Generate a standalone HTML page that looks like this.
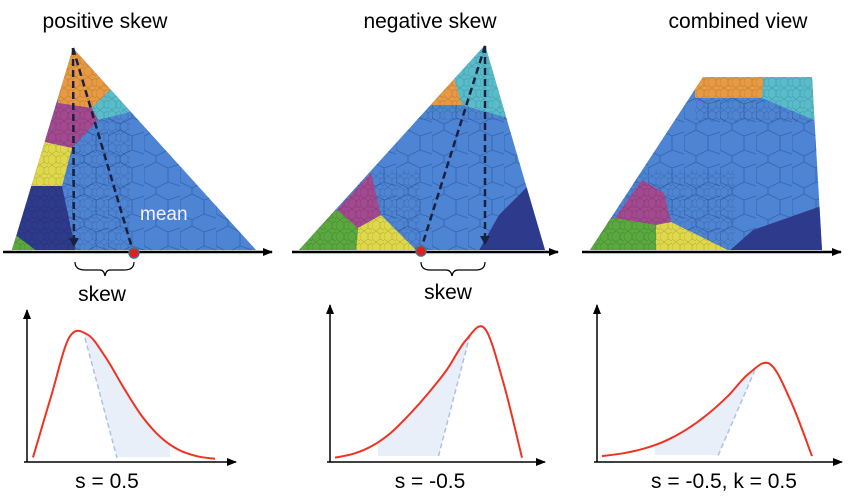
<!DOCTYPE html>
<html><head><meta charset="utf-8"><style>
body{margin:0;background:#fff;width:850px;height:501px;overflow:hidden}
svg{display:block}
text{font-family:"Liberation Sans",sans-serif}
</style></head><body>
<svg id="fig" width="850" height="501" viewBox="0 0 850 501">
<defs>
<pattern id="cells" width="36" height="32" patternUnits="userSpaceOnUse">
<path d="M0 8 L12 2 L24 8 L24 22 L12 28 L0 22 Z M24 8 L36 4 M24 22 L36 26 M12 28 L12 32 M12 2 L12 0" fill="none" stroke="#2f5ea8" stroke-width="0.9" opacity="0.8"/>
</pattern>
<pattern id="small" width="12" height="11" patternUnits="userSpaceOnUse">
<path d="M0 3 L4 0 L8 3 L8 8 L4 11 L0 8 Z M8 3 L12 1 M8 8 L12 10" fill="none" stroke="#000" stroke-width="0.5" opacity="0.25"/>
</pattern>
<clipPath id="t1"><polygon points="73,48 12,250 256,250"/></clipPath>
<clipPath id="t2"><polygon points="485,45 299,250 545,250"/></clipPath>
<clipPath id="t3"><polygon points="703,77 812,77 822,250 590,250"/></clipPath>
<clipPath id="f1"><polygon points="85,300 85,338 117,458 170,458 170,300"/></clipPath>
<clipPath id="f2"><polygon points="378,300 470,300 470,335 438,458 378,458"/></clipPath>
<clipPath id="f3"><polygon points="655,300 755,300 755,370 717,458 655,458"/></clipPath>
<marker id="ah" markerWidth="10" markerHeight="8" refX="9" refY="4" orient="auto" markerUnits="userSpaceOnUse"><path d="M0 0 L10 4 L0 8 Z" fill="#000"/></marker>
<marker id="ahd" markerWidth="10" markerHeight="10" refX="8" refY="5" orient="auto" markerUnits="userSpaceOnUse"><path d="M0 0 L9 5 L0 10 Z" fill="#1a2040"/></marker>
</defs>

<text x="105" y="28" font-size="21" text-anchor="middle">positive skew</text>
<text x="430" y="28" font-size="21" text-anchor="middle">negative skew</text>
<text x="738" y="28" font-size="21" text-anchor="middle">combined view</text>

<!-- panel 1 -->
<g clip-path="url(#t1)">
<rect x="0" y="40" width="270" height="215" fill="#4d84d4"/>
<rect x="0" y="40" width="270" height="215" fill="url(#cells)"/>
<polygon points="60,40 100,40 112,88 92,108 58,103" fill="#e89a42"/>
<polygon points="92,108 112,88 130,112 98,120" fill="#58bccb"/>
<polygon points="40,100 58,103 92,108 98,120 72,148 45,142" fill="#a24990"/>
<polygon points="30,140 45,142 72,148 62,186 28,186" fill="#dfd84a"/>
<polygon points="10,186 62,186 76,252 10,252" fill="#2e3b8c"/>
<polygon points="10,232 17,236 38,252 10,252" fill="#5aa83e"/>
<rect x="0" y="40" width="130" height="215" fill="url(#small)"/>
</g>
<line x1="3" y1="252" x2="272" y2="252" stroke="#000" stroke-width="2.5" marker-end="url(#ah)"/>
<line x1="73" y1="48" x2="74" y2="246" stroke="#1a2040" stroke-width="2.5" stroke-dasharray="7,4" marker-end="url(#ahd)"/>
<line x1="73" y1="48" x2="132" y2="248" stroke="#1a2040" stroke-width="2.5" stroke-dasharray="7,4"/>
<circle cx="134" cy="253" r="5" fill="#e02020" stroke="#4d7080" stroke-width="1.5"/>
<text x="140" y="220" font-size="19" fill="#f4f0ff">mean</text>
<path d="M75 262 Q75 270 85 270 L100 270 Q104 270 105 276 Q106 270 110 270 L124 270 Q134 270 134 262" fill="none" stroke="#000" stroke-width="1.2"/>
<text x="102" y="301" font-size="21" text-anchor="middle">skew</text>

<!-- panel 2 -->
<g clip-path="url(#t2)">
<rect x="290" y="40" width="260" height="215" fill="#4d84d4"/>
<rect x="290" y="40" width="260" height="215" fill="url(#cells)"/>
<polygon points="420,60 453,60 453,75 462,105 420,105" fill="#e89a42"/>
<polygon points="453,40 520,40 520,125 508,118 462,105 453,75" fill="#58bccb"/>
<polygon points="290,200 337,210 371,173 381,215 358,228 290,228" fill="#a24990"/>
<polygon points="358,228 381,215 418,252 356,252" fill="#dfd84a"/>
<polygon points="290,210 337,210 358,228 356,252 290,252" fill="#5aa83e"/>
<polygon points="531,183 550,180 550,252 478,252 499,215" fill="#2e3b8c"/>
<rect x="290" y="170" width="130" height="85" fill="url(#small)"/>
<rect x="420" y="40" width="100" height="80" fill="url(#small)"/>
</g>
<line x1="292" y1="252" x2="558" y2="252" stroke="#000" stroke-width="2.5" marker-end="url(#ah)"/>
<line x1="485" y1="46" x2="485" y2="244" stroke="#1a2040" stroke-width="2.5" stroke-dasharray="7,4" marker-end="url(#ahd)"/>
<line x1="485" y1="46" x2="422" y2="246" stroke="#1a2040" stroke-width="2.5" stroke-dasharray="7,4"/>
<circle cx="421" cy="251" r="5" fill="#e02020" stroke="#4d7080" stroke-width="1.5"/>
<path d="M421 262 Q421 270 430 270 L446 270 Q451 270 452 276 Q453 270 458 270 L476 270 Q485 270 485 262" fill="none" stroke="#000" stroke-width="1.2"/>
<text x="448" y="299" font-size="21" text-anchor="middle">skew</text>

<!-- panel 3 -->
<g clip-path="url(#t3)">
<rect x="585" y="70" width="245" height="185" fill="#4d84d4"/>
<rect x="585" y="70" width="245" height="185" fill="url(#cells)"/>
<polygon points="695,70 764,70 762,98 695,98" fill="#e89a42"/>
<polygon points="764,70 830,70 830,122 814,120 762,98" fill="#58bccb"/>
<polygon points="585,218 615,218 642,180 664,193 671,222 656,225 585,225" fill="#a24990"/>
<polygon points="656,225 671,222 728,250 656,252" fill="#dfd84a"/>
<polygon points="585,222 615,218 656,225 656,252 585,252" fill="#5aa83e"/>
<polygon points="728,252 753,230 830,203 830,252" fill="#2e3b8c"/>
<rect x="585" y="170" width="150" height="85" fill="url(#small)"/>
<rect x="695" y="70" width="135" height="52" fill="url(#small)"/>
</g>
<line x1="582" y1="252" x2="841" y2="252" stroke="#000" stroke-width="2.5" marker-end="url(#ah)"/>

<g id="charts"></g>
<text x="107" y="488" font-size="21" text-anchor="middle">s = 0.5</text>
<text x="430" y="488" font-size="21" text-anchor="middle">s = -0.5</text>
<text x="724" y="488" font-size="21" text-anchor="middle">s = -0.5, k = 0.5</text>
</svg>
<script>
const ns="http://www.w3.org/2000/svg";
// density samples at evenly spaced x (0..1 of curve span)
const skewPos=[0.02,0.5,0.96,0.98,0.8,0.56,0.34,0.18,0.08,0.03,0.01];
const skewNeg=[0.01,0.04,0.1,0.2,0.34,0.5,0.68,0.9,0.99,0.58,0.01];
const skewComb=[0.02,0.05,0.1,0.18,0.3,0.46,0.66,0.9,1.0,0.6,0.02];
const panels=[
 {name:"1",ax:27,ay:462,top:310,right:236,x0:33,x1:215,base:460,h:128,data:skewPos,d:[85,338,117,458],clip:"f1"},
 {name:"2",ax:330,ay:462,top:305,right:545,x0:335,x1:522,base:459,h:132,data:skewNeg,d:[470,335,438,458],clip:"f2"},
 {name:"3",ax:597,ay:462,top:305,right:842,x0:602,x1:812,base:458,h:94,data:skewComb,d:[755,370,717,458],clip:"f3"}
];
const g=document.getElementById("charts");
function mk(t,a){const e=document.createElementNS(ns,t);for(const k in a)e.setAttribute(k,a[k]);g.appendChild(e);return e;}
function smooth(pts){let d="M"+pts[0][0]+" "+pts[0][1];for(let i=0;i<pts.length-1;i++){const p0=pts[Math.max(0,i-1)],p1=pts[i],p2=pts[i+1],p3=pts[Math.min(pts.length-1,i+2)];const c1=[p1[0]+(p2[0]-p0[0])/6,p1[1]+(p2[1]-p0[1])/6],c2=[p2[0]-(p3[0]-p1[0])/6,p2[1]-(p3[1]-p1[1])/6];d+=" C"+c1+" "+c2+" "+p2;}return d;}
panels.forEach(p=>{
 const xs=v=>p.x0+(p.x1-p.x0)*v, ys=v=>p.base-p.h*v;
 const pts=p.data.map((v,i)=>[xs(i/(p.data.length-1)),ys(v)]);
 const curve=smooth(pts);
 const fill=mk("path",{d:curve+" L"+p.x1+" "+(p.base-3)+" L"+p.x0+" "+(p.base-3)+" Z",fill:"#e9eff8","clip-path":"url(#"+p.clip+")"});
 
 
 const nl=mk("line",{x1:p.d[0],y1:p.d[1],x2:p.d[2],y2:p.d[3],stroke:"#a8c4e8","stroke-width":"1.5","stroke-dasharray":"5,3"});
 
 
 const c=mk("path",{d:curve,fill:"none",stroke:"#ee3322","stroke-width":"2"});
 
 
 const ya=mk("line",{x1:p.ax,y1:p.ay,x2:p.ax,y2:p.top,stroke:"#000","stroke-width":"1.5","marker-end":"url(#ah)"});
 
 
 const xa=mk("line",{x1:p.ax-3,y1:p.ay,x2:p.right,y2:p.ay,stroke:"#000","stroke-width":"1.5","marker-end":"url(#ah)"});
 
 
});
</script>
</body></html>
